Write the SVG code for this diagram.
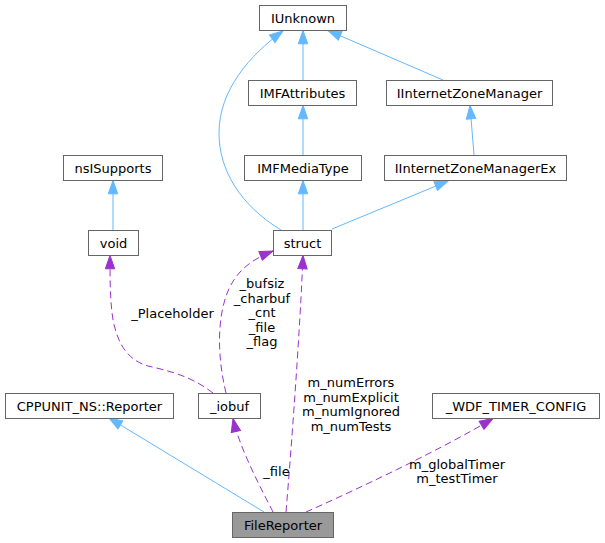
<svg xmlns="http://www.w3.org/2000/svg" width="605" height="543" viewBox="0 0 605 543">
<style>
.node rect{fill:#ffffff;stroke:#666666;stroke-width:1}
.node.main rect{fill:#999999}
text{font-family:"DejaVu Sans","Liberation Sans",sans-serif;font-size:13px;fill:#000000;text-anchor:middle}
.inh{fill:none;stroke:#63b8ff;stroke-width:1;marker-end:url(#ab)}
.use{fill:none;stroke:#9a32cd;stroke-width:1;stroke-dasharray:7,4;marker-end:url(#ap)}
</style>
<defs>
<marker id="ab" markerUnits="userSpaceOnUse" markerWidth="14" markerHeight="10" refX="13.3" refY="5" orient="auto" overflow="visible">
<path d="M0,0.3 L13.3,5 L0,9.7 z" fill="#63b8ff" stroke="#63b8ff" stroke-width="1"/>
</marker>
<marker id="ap" markerUnits="userSpaceOnUse" markerWidth="14" markerHeight="10" refX="13.3" refY="5" orient="auto" overflow="visible">
<path d="M0,0.3 L13.3,5 L0,9.7 z" fill="#9a32cd" stroke="#9a32cd" stroke-width="1"/>
</marker>
</defs>
<g id="edges">
<path class="inh" d="M303,80 L303,30.5"/>
<path class="inh" d="M443,80 L328,30.5"/>
<path class="inh" d="M281,230 C240,205 219,170 219,133 C219,90 250,55 283,31"/>
<path class="inh" d="M303,155 L303,105.5"/>
<path class="inh" d="M303,230 L303,180.5"/>
<path class="inh" d="M332,229 L448,181"/>
<path class="inh" d="M474,155 L470,105.5"/>
<path class="inh" d="M113,230 L113,180.5"/>
<path class="inh" d="M264,512 L109,418"/>
<path class="use" d="M273,512 C263,492 240,450 233,418.5"/>
<path class="use" d="M286,512 C292,440 300,330 303,255.5"/>
<path class="use" d="M306,512 C360,488 440,450 493,418.5"/>
<path class="use" d="M226,393 C218,360 216,320 228,291 C236,272 250,260 273,251"/>
<path class="use" d="M213,393 C190,375 165,370 148,366 C128,360 118,345 113,320 C110,300 110,280 110,255.5"/>
<text x="262" y="288">_bufsiz</text>
<text x="262" y="302.5">_charbuf</text>
<text x="262" y="317">_cnt</text>
<text x="262" y="331.5">_file</text>
<text x="262" y="346">_flag</text>
<text x="172.5" y="318">_Placeholder</text>
<text x="351" y="387">m_numErrors</text>
<text x="351" y="401.5">m_numExplicit</text>
<text x="351" y="416">m_numIgnored</text>
<text x="351" y="430.5">m_numTests</text>
<text x="276.5" y="476">_file</text>
<text x="457" y="468.5">m_globalTimer</text>
<text x="457" y="483">m_testTimer</text>
</g>
<g id="IUnknown" class="node"><rect x="259.5" y="5.5" width="87" height="25"/><text x="303" y="22.5">IUnknown</text></g>
<g id="IMFAttributes" class="node"><rect x="248.5" y="80.5" width="108" height="25"/><text x="302.5" y="97.5">IMFAttributes</text></g>
<g id="IInternetZoneManager" class="node"><rect x="386.5" y="80.5" width="166" height="25"/><text x="469.5" y="97.5">IInternetZoneManager</text></g>
<g id="nsISupports" class="node"><rect x="63.5" y="155.5" width="99" height="25"/><text x="113" y="172.5">nsISupports</text></g>
<g id="IMFMediaType" class="node"><rect x="244.5" y="155.5" width="117" height="25"/><text x="303" y="172.5">IMFMediaType</text></g>
<g id="IInternetZoneManagerEx" class="node"><rect x="384.5" y="155.5" width="182" height="25"/><text x="475.5" y="172.5">IInternetZoneManagerEx</text></g>
<g id="void" class="node"><rect x="88.5" y="230.5" width="50" height="25"/><text x="113.5" y="247.5">void</text></g>
<g id="struct" class="node"><rect x="273.5" y="230.5" width="58" height="25"/><text x="302.5" y="247.5">struct</text></g>
<g id="CPPUNIT_NS_Reporter" class="node"><rect x="5.5" y="393.5" width="168" height="25"/><text x="89.5" y="410.5">CPPUNIT_NS::Reporter</text></g>
<g id="_iobuf" class="node"><rect x="198.5" y="393.5" width="62" height="25"/><text x="229.5" y="410.5">_iobuf</text></g>
<g id="_WDF_TIMER_CONFIG" class="node"><rect x="432.5" y="393.5" width="167" height="25"/><text x="516" y="410.5">_WDF_TIMER_CONFIG</text></g>
<g id="FileReporter" class="node main"><rect x="232.5" y="512.5" width="101" height="25"/><text x="283" y="529.5">FileReporter</text></g>
</svg>
